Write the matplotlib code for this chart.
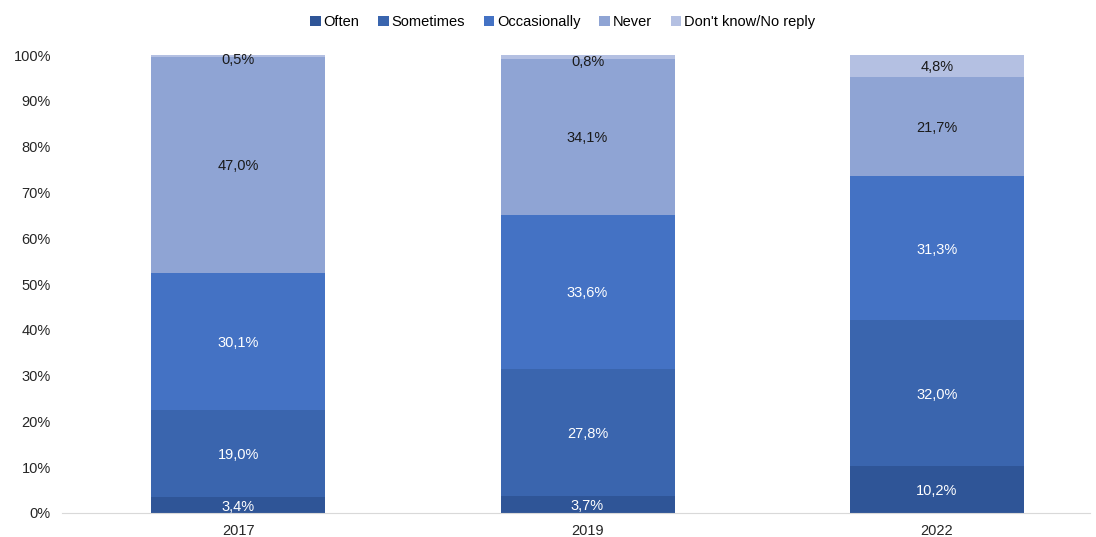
import matplotlib.pyplot as plt
import numpy as np

plt.rcParams['font.family'] = ['Liberation Sans', 'DejaVu Sans']

years = ["2017", "2019", "2022"]
categories = ["Often", "Sometimes", "Occasionally", "Never", "Don't know/No reply"]
often = [3.4, 3.7, 10.2]
sometimes = [19.0, 27.8, 32.0]
occasionally = [30.1, 33.6, 31.3]
never = [47.0, 34.1, 21.7]
dont_know = [0.5, 0.8, 4.8]

series = [often, sometimes, occasionally, never, dont_know]
colors = ["#2F5597", "#3A65AE", "#4472C4", "#8FA4D4", "#B4C0E2"]
text_colors = ["white", "white", "white", "#1a1a1a", "#1a1a1a"]

fig = plt.figure(figsize=(10.96, 5.37), dpi=100)
ax = fig.add_axes([62 / 1096, 24 / 537, (1090 - 62) / 1096, (513 - 55) / 537])

x = np.arange(len(years))
bottom = np.zeros(len(years))
for vals, name, col, tc in zip(series, categories, colors, text_colors):
    vals = np.array(vals)
    ax.bar(x, vals, 0.498, bottom=bottom, color=col, label=name, linewidth=0)
    for xi, b, v in zip(x, bottom, vals):
        y = b + v / 2
        if v < 1:
            y = b - 0.3
        ax.text(xi, y, f"{v:.1f}%".replace(".", ","), ha="center",
                va="center_baseline", color=tc, fontsize=10.5)
    bottom += vals

ax.set_xlim(-0.504, 2.438)
ax.set_ylim(0, 100)
ax.set_yticks(np.arange(0, 101, 10))
ax.set_yticklabels([f"{v}%" for v in range(0, 101, 10)], fontsize=10.5, color="#262626")
ax.set_xticks(x)
ax.set_xticklabels(years, fontsize=10.5, color="#262626")
ax.tick_params(length=0, pad=8)
ax.tick_params(axis="x", pad=8)
for s in ["top", "right", "left"]:
    ax.spines[s].set_visible(False)
ax.spines["bottom"].set_color("#D9D9D9")

ax.legend(loc="upper center", bbox_to_anchor=(0.487, 1.115), ncol=5,
          frameon=False, fontsize=10.5, handlelength=0.7, handleheight=0.7,
          handletextpad=0.2, columnspacing=1.3)

fig.savefig("out.png", dpi=100)
